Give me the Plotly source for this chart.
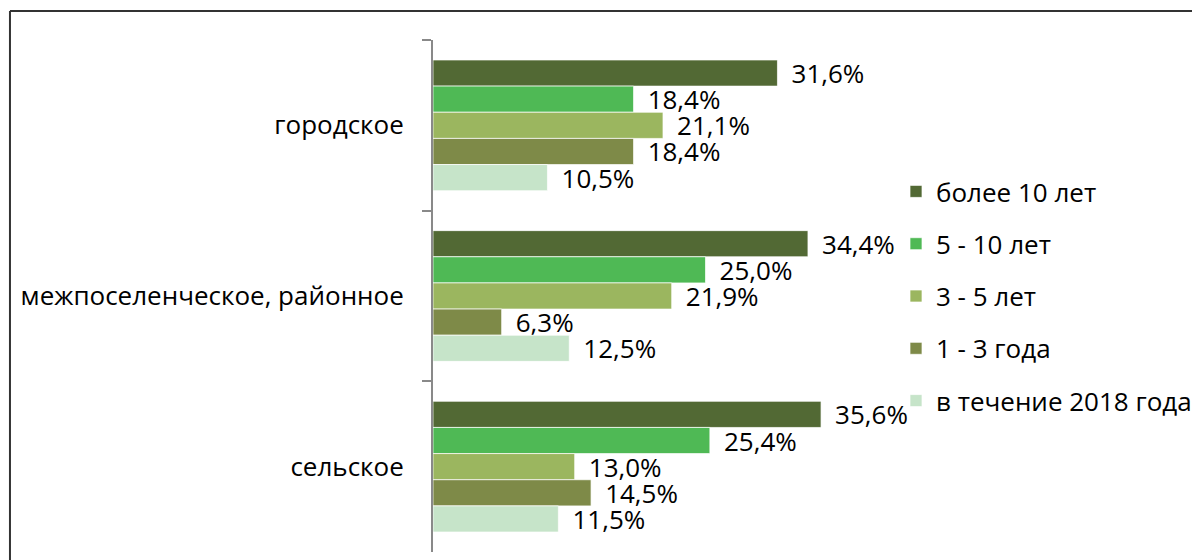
import plotly.graph_objects as go

categories = ["городское", "межпоселенческое, районное", "сельское"]
series_names = ["более 10 лет", "5 - 10 лет", "3 - 5 лет", "1 - 3 года", "в течение 2018 года"]
more_10 = [31.6, 34.4, 35.6]
y5_10 = [18.4, 25.0, 25.4]
y3_5 = [21.1, 21.9, 13.0]
y1_3 = [18.4, 6.3, 14.5]
in_2018 = [10.5, 12.5, 11.5]
colors = ["#526934", "#4fb955", "#9bb65f", "#7e8a48", "#c6e4c9"]

series_values = [more_10, y5_10, y3_5, y1_3, in_2018]

W, H = 1200, 560
L, R, T, B = 425, 338, 32, 16
pw = W - L - R
ph = H - T - B

FONT = "Open Sans"
FS = 26

fig = go.Figure()
for i, (name, vals, col) in enumerate(zip(series_names, series_values, colors)):
    fig.add_trace(go.Bar(
        y=categories, x=vals, name=name, orientation="h",
        marker=dict(color=col, line=dict(color="rgba(255,255,255,0.7)", width=1)),
        texttemplate="\u00a0\u2009%{x:.1f}%", textposition="outside",
        constraintext="none", cliponaxis=False,
        textfont=dict(family=FONT, size=FS, color="#000000"),
        legendgroup=f"g{i}",
        hoverinfo="skip",
    ))

def px_x(p):
    return (p - L) / pw

def px_y(p):
    return (H - B - p) / ph

fig.update_layout(
    width=W, height=H,
    margin=dict(l=L, r=R, t=T, b=B, pad=0),
    barmode="group", bargap=0.234, bargroupgap=0,
    separators=", ",
    plot_bgcolor="white", paper_bgcolor="white",
    font=dict(family=FONT, size=FS, color="#000000"),
    showlegend=True,
    legend=dict(x=px_x(888), y=px_y(160), xanchor="left", yanchor="top",
                traceorder="grouped", tracegroupgap=15.5,
                font=dict(family=FONT, size=FS, color="#000000"),
                bgcolor="rgba(0,0,0,0)"),
    xaxis=dict(range=[0, 40], visible=False, showgrid=False, zeroline=False),
    yaxis=dict(autorange="reversed", type="category",
               showline=True, linecolor="#898989", linewidth=2,
               ticks="outside", tickson="boundaries", ticklen=9,
               tickcolor="#898989", tickwidth=2,
               ticklabelstandoff=22,
               showgrid=False, zeroline=False,
               tickfont=dict(family=FONT, size=FS, color="#000000")),
    shapes=[
        dict(type="line", xref="paper", yref="paper",
             x0=px_x(1), x1=px_x(1200), y0=px_y(3), y1=px_y(3),
             line=dict(color="#333333", width=2)),
        dict(type="line", xref="paper", yref="paper",
             x0=px_x(1), x1=px_x(1), y0=px_y(3), y1=px_y(560),
             line=dict(color="#333333", width=2)),
    ],
)

fig.write_html("out.html")
